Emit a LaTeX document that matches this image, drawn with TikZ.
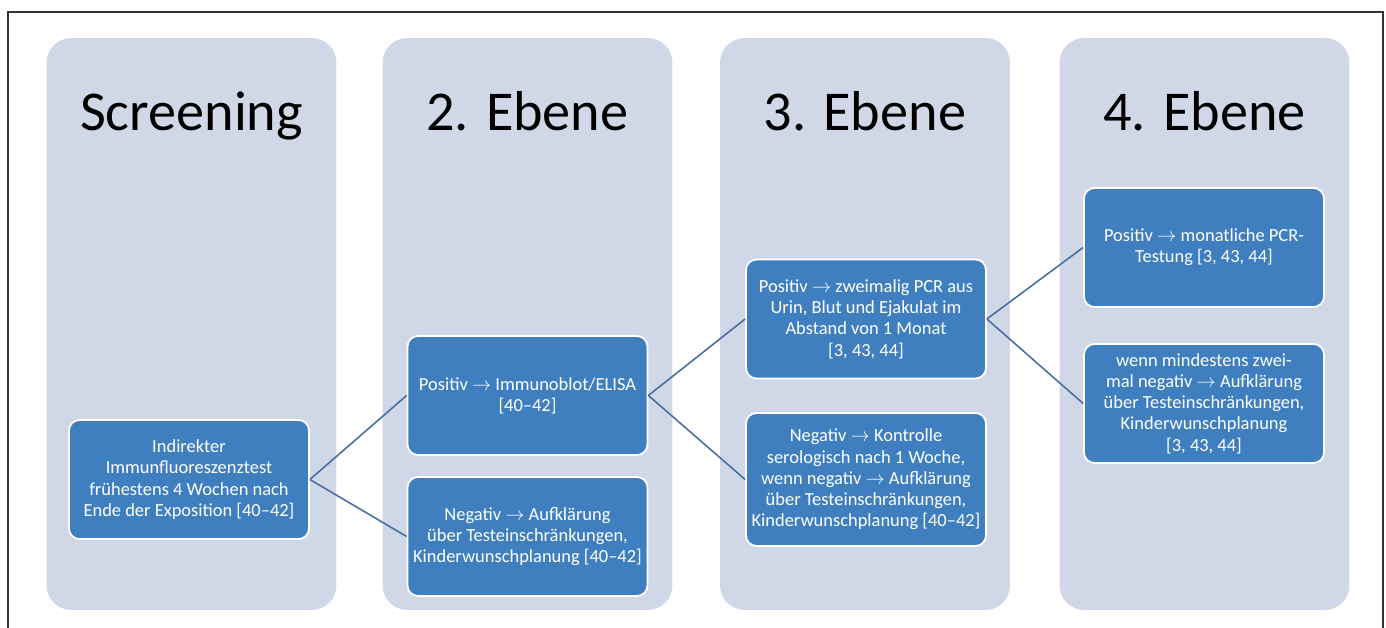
\documentclass[tikz,border=0pt]{standalone}
\usepackage{fontspec}
\setmainfont{Carlito}

\definecolor{ebenebg}{HTML}{D0D8E8}
\definecolor{boxblue}{HTML}{3F7FBF}
\definecolor{linkblue}{HTML}{4A6E9F}

\tikzset{
  ebene/.style={fill=ebenebg, rounded corners=14pt, inner sep=0pt, minimum width=5.8cm, minimum height=11.44cm},
  titel/.style={anchor=base, font=\fontsize{32}{38}\selectfont},
  kasten/.style={draw=white, line width=1pt, fill=boxblue, rounded corners=6pt, text=white, align=center,
    inner sep=1pt, minimum width=4.8cm, minimum height=2.38cm, font=\fontsize{10.5}{12.1}\selectfont},
  verbindung/.style={draw=linkblue, line width=0.9pt}
}

\begin{document}
\begin{tikzpicture}[x=0.02cm, y=-0.02cm]
    % Fix the page to the size of the figure
    \useasboundingbox (0,0) rectangle (1386,628);
    % Outer frame, open at the bottom
    \draw[line width=1.2pt, black!80] (8,628) -- (8,12) -- (1383,12) -- (1383,628);

    % The four columns with their headings
    \node[ebene] (col1) at (191.5,324) {};
    \node[ebene] (col2) at (527.5,324) {};
    \node[ebene] (col3) at (865,324) {};
    \node[ebene] (col4) at (1204.5,324) {};
    \node[titel] (t1) at (191.5,131) {Screening};
    \node[titel] (t2) at (527.5,131) {2. Ebene};
    \node[titel] (t3) at (865,131) {3. Ebene};
    \node[titel] (t4) at (1204.5,131) {4. Ebene};

    % Boxes of the test steps
    \node[kasten] (scr) at (189,479.5) {Indirekter\\Immunfluoreszenztest\\fr\"uhestens 4 Wochen nach\\Ende der Exposition [40--42]};
    \node[kasten] (pos2) at (527.5,395.5) {Positiv $\rightarrow$ Immunoblot/ELISA\\{}[40--42]};
    \node[kasten] (neg2) at (527.5,536.5) {Negativ $\rightarrow$ Aufkl\"arung\\\"uber Testeinschr\"ankungen,\\Kinderwunschplanung [40--42]};
    \node[kasten] (pos3) at (866,319) {Positiv $\rightarrow$ zweimalig PCR aus\\Urin, Blut und Ejakulat im\\Abstand von 1 Monat\\{}[3, 43, 44]};
    \node[kasten, minimum height=2.66cm] (neg3) at (866,479.5) {Negativ $\rightarrow$ Kontrolle\\serologisch nach 1 Woche,\\wenn negativ $\rightarrow$ Aufkl\"arung\\\"uber Testeinschr\"ankungen,\\Kinderwunschplanung [40--42]};
    \node[kasten] (pos4) at (1204,247.5) {Positiv $\rightarrow$ monatliche PCR-\\Testung [3, 43, 44]};
    \node[kasten] (neg4) at (1204,403.5) {wenn mindestens zwei-\\mal negativ $\rightarrow$ Aufkl\"arung\\\"uber Testeinschr\"ankungen,\\Kinderwunschplanung\\{}[3, 43, 44]};

    % Connectors between the steps
    \draw[verbindung] (scr.east) -- (pos2.west);
    \draw[verbindung] (scr.east) -- (neg2.west);
    \draw[verbindung] (pos2.east) -- (pos3.west);
    \draw[verbindung] (pos2.east) -- (neg3.west);
    \draw[verbindung] (pos3.east) -- (pos4.west);
    \draw[verbindung] (pos3.east) -- (neg4.west);
\end{tikzpicture}
\end{document}
